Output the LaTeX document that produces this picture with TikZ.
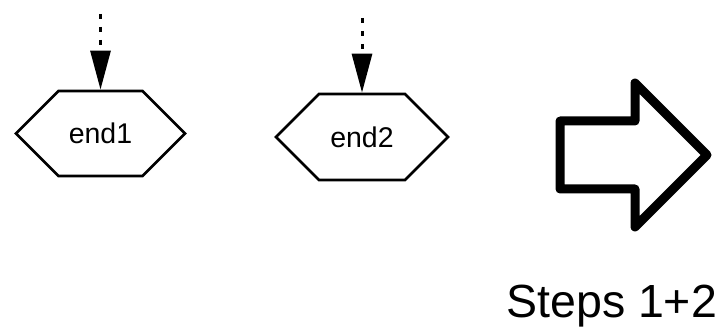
\documentclass[tikz,border=0pt]{standalone}
\usepackage{fontspec}
\setmainfont{Liberation Sans}
\usetikzlibrary{shapes.symbols,arrows.meta}
\begin{document}
\begin{tikzpicture}[x=1pt,y=-1pt,
  endbox/.style={signal, signal to=west and east, signal pointer angle=90,
    draw, line width=2.7pt, inner sep=0pt, font=\fontsize{28.5}{30}\selectfont},
  flow/.style={line width=3pt, dash pattern=on 5pt off 8pt,
    -{Triangle[length=39pt,width=20pt,sep=0pt]}, shorten >=0pt},
  bigarrow/.style={line width=9pt, line join=round}]
\useasboundingbox (0,0) rectangle (722,328);
\node[endbox, minimum width=169pt, minimum height=85pt] (e1) at (100.5,133.5) {end1};
\node[endbox, minimum width=172pt, minimum height=86pt] (e2) at (362,137) {end2};
\coordinate (s1) at (100.5,14);
\coordinate (s2) at (362,18);
\draw[flow] (s1) -- (e1.north);
\draw[flow] (s2) -- (e2.north);
\draw[bigarrow] (560,121) -- (635,121) -- (635,83) -- (707,155) -- (635,227) -- (635,189) -- (560,189) -- cycle;
\node[anchor=base, font=\fontsize{46.5}{50}\selectfont, inner sep=0pt] (steps) at (611.7,317) {Steps 1+2};
\end{tikzpicture}
\end{document}
